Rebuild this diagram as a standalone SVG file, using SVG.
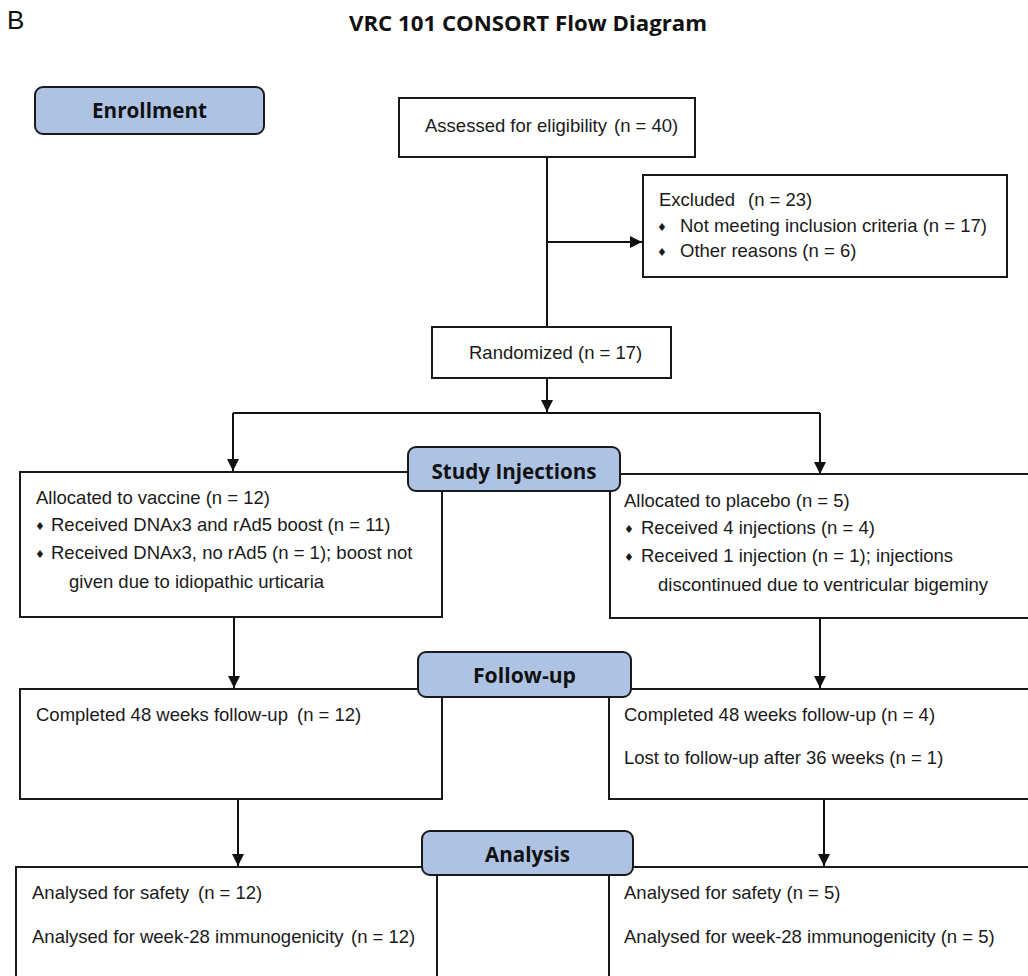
<svg xmlns="http://www.w3.org/2000/svg" width="1028" height="976" viewBox="0 0 1028 976">
<style>
.bg{fill:#ffffff}
.box{fill:#ffffff;stroke:#1a1a1a;stroke-width:2}
.lab{fill:#aec3e4;stroke:#1a1a1a;stroke-width:2}
.t{font-family:"Liberation Sans",Arial,sans-serif;font-size:18.5px;fill:#1a1a1a}
.b{font-family:"DejaVu Sans",sans-serif;font-size:11px;fill:#1a1a1a}
.h{font-family:"Open Sans","Noto Sans",sans-serif;font-weight:bold;font-size:21px;fill:#111}
.c{fill:none;stroke:#111;stroke-width:2}
</style>
<defs>
<marker id="arr" viewBox="0 0 10 10" markerUnits="userSpaceOnUse" markerWidth="12" markerHeight="12" refX="10" refY="5" orient="auto">
<path d="M0,0 L10,5 L0,10 z" fill="#111"/>
</marker>
</defs>
<rect class="bg" x="0" y="0" width="1028" height="976"/>
<text x="7" y="29" font-family="Liberation Sans, Arial, sans-serif" font-size="26" fill="#111">B</text>
<text class="h" x="349" y="31" font-size="20" textLength="358" lengthAdjust="spacingAndGlyphs">VRC 101 CONSORT Flow Diagram</text>

<g id="connectors">
<path class="c" d="M547,157 L547,327"/>
<path class="c" d="M547,242 L642,242" marker-end="url(#arr)"/>
<path class="c" d="M547,378 L547,412" marker-end="url(#arr)"/>
<path class="c" d="M233,413 L820,413"/>
<path class="c" d="M233,413 L233,471" marker-end="url(#arr)"/>
<path class="c" d="M820,413 L820,474" marker-end="url(#arr)"/>
<path class="c" d="M234,617 L234,688" marker-end="url(#arr)"/>
<path class="c" d="M820,618 L820,688" marker-end="url(#arr)"/>
<path class="c" d="M238,799 L238,866" marker-end="url(#arr)"/>
<path class="c" d="M824,799 L824,866" marker-end="url(#arr)"/>
</g>

<g id="enrollment">
<rect class="lab" x="35" y="87" width="229" height="47" rx="8"/>
<text class="h" x="149.5" y="118" text-anchor="middle" textLength="115" lengthAdjust="spacingAndGlyphs">Enrollment</text>
</g>

<g id="assessed">
<rect class="box" x="399" y="98" width="296" height="59"/>
<text class="t" x="425" y="132">Assessed for eligibility<tspan x="614">(n = 40)</tspan></text>
</g>

<g id="excluded">
<rect class="box" x="643" y="175" width="364" height="102"/>
<text class="t" x="659" y="206">Excluded<tspan x="748">(n = 23)</tspan></text>
<text class="b" x="662" y="231" text-anchor="middle">♦</text>
<text class="t" x="680" y="232">Not meeting inclusion criteria (n = 17)</text>
<text class="b" x="662" y="256" text-anchor="middle">♦</text>
<text class="t" x="680" y="257">Other reasons (n = 6)</text>
</g>

<g id="randomized">
<rect class="box" x="432" y="327" width="239" height="51"/>
<text class="t" x="469" y="359">Randomized (n = 17)</text>
</g>

<g id="vaccine">
<rect class="box" x="20" y="472" width="422" height="145"/>
<text class="t" x="36" y="504">Allocated to vaccine (n = 12)</text>
<text class="b" x="40" y="530" text-anchor="middle">♦</text>
<text class="t" x="51" y="531">Received DNAx3 and rAd5 boost (n = 11)</text>
<text class="b" x="40" y="558" text-anchor="middle">♦</text>
<text class="t" x="51" y="559">Received DNAx3, no rAd5 (n = 1); boost not</text>
<text class="t" x="69" y="588">given due to idiopathic urticaria</text>
</g>

<g id="placebo">
<rect class="box" x="610" y="474" width="440" height="144"/>
<text class="t" x="624" y="507">Allocated to placebo (n = 5)</text>
<text class="b" x="629" y="533" text-anchor="middle">♦</text>
<text class="t" x="641" y="534">Received 4 injections (n = 4)</text>
<text class="b" x="629" y="561" text-anchor="middle">♦</text>
<text class="t" x="641" y="562">Received 1 injection (n = 1); injections</text>
<text class="t" x="658" y="591">discontinued due to ventricular bigeminy</text>
</g>

<g id="study-injections">
<rect class="lab" x="408" y="447" width="212" height="44" rx="8"/>
<text class="h" x="514" y="479" text-anchor="middle" textLength="165" lengthAdjust="spacingAndGlyphs">Study Injections</text>
</g>

<g id="followup-vaccine">
<rect class="box" x="20" y="689" width="422" height="110"/>
<text class="t" x="36" y="721">Completed 48 weeks follow-up<tspan x="297">(n = 12)</tspan></text>
</g>

<g id="followup-placebo">
<rect class="box" x="609" y="689" width="440" height="110"/>
<text class="t" x="624" y="721">Completed 48 weeks follow-up (n = 4)</text>
<text class="t" x="624" y="764">Lost to follow-up after 36 weeks (n = 1)</text>
</g>

<g id="follow-up">
<rect class="lab" x="418" y="652" width="213" height="45" rx="8"/>
<text class="h" x="524.5" y="683" text-anchor="middle" textLength="103" lengthAdjust="spacingAndGlyphs">Follow-up</text>
</g>

<g id="analysis-vaccine">
<rect class="box" x="16" y="867" width="421" height="130"/>
<text class="t" x="32" y="899">Analysed for safety<tspan x="198">(n = 12)</tspan></text>
<text class="t" x="32" y="943">Analysed for week-28 immunogenicity<tspan x="351">(n = 12)</tspan></text>
</g>

<g id="analysis-placebo">
<rect class="box" x="609" y="867" width="440" height="130"/>
<text class="t" x="624" y="899">Analysed for safety (n = 5)</text>
<text class="t" x="624" y="943">Analysed for week-28 immunogenicity (n = 5)</text>
</g>

<g id="analysis">
<rect class="lab" x="422" y="831" width="211" height="44" rx="8"/>
<text class="h" x="527.5" y="862" text-anchor="middle" textLength="85" lengthAdjust="spacingAndGlyphs">Analysis</text>
</g>
</svg>
